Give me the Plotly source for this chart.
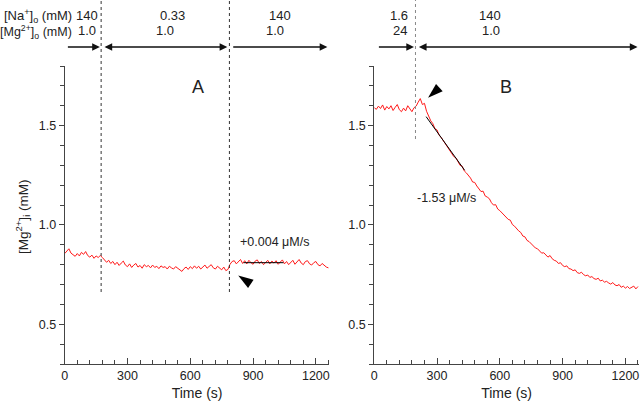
import plotly.graph_objects as go

# ---------------- data ----------------
time_s = list(range(0, 1261, 10))

mg_a = [0.856, 0.870, 0.880, 0.858, 0.850, 0.842, 0.856, 0.844, 0.862, 0.852,
        0.866, 0.846, 0.838, 0.848, 0.832, 0.844, 0.836, 0.846, 0.836, 0.826,
        0.812, 0.822, 0.806, 0.816, 0.800, 0.812, 0.796, 0.808, 0.818, 0.798,
        0.790, 0.804, 0.786, 0.798, 0.806, 0.788, 0.796, 0.782, 0.800, 0.790,
        0.796, 0.784, 0.798, 0.786, 0.792, 0.780, 0.794, 0.786, 0.790, 0.778,
        0.792, 0.784, 0.778, 0.790, 0.782, 0.772, 0.766, 0.780, 0.788, 0.776,
        0.790, 0.780, 0.794, 0.782, 0.792, 0.778, 0.790, 0.798, 0.782, 0.792,
        0.800, 0.784, 0.778, 0.792, 0.782, 0.774, 0.788, 0.770, 0.776, 0.802,
        0.816, 0.820, 0.804, 0.816, 0.826, 0.806, 0.820, 0.804, 0.822, 0.810,
        0.802, 0.818, 0.824, 0.806, 0.816, 0.800, 0.814, 0.822, 0.804, 0.818,
        0.808, 0.820, 0.802, 0.814, 0.824, 0.804, 0.816, 0.800, 0.812, 0.822,
        0.802, 0.814, 0.826, 0.808, 0.800, 0.816, 0.820, 0.804, 0.798, 0.810,
        0.816, 0.800, 0.794, 0.806, 0.796, 0.788, 0.784]

mg_b = [1.590, 1.582, 1.598, 1.586, 1.604, 1.578, 1.596, 1.584, 1.600, 1.576,
        1.592, 1.606, 1.580, 1.570, 1.588, 1.574, 1.600, 1.582, 1.570, 1.590,
        1.598, 1.618, 1.636, 1.606, 1.612, 1.572,
        1.548, 1.524, 1.510, 1.484, 1.478, 1.452, 1.440, 1.424, 1.408, 1.396,
        1.378, 1.366, 1.344, 1.338, 1.322, 1.300, 1.296, 1.272, 1.262, 1.250,
        1.236, 1.216, 1.214, 1.196, 1.182, 1.168, 1.170, 1.146, 1.140, 1.132,
        1.112, 1.100, 1.102, 1.080, 1.072, 1.062, 1.050, 1.040, 1.028, 1.024,
        1.002, 0.994, 0.980, 0.970, 0.962, 0.944, 0.940, 0.922, 0.916, 0.906,
        0.894, 0.884, 0.880, 0.866, 0.858, 0.860, 0.846, 0.838, 0.846, 0.830,
        0.822, 0.818, 0.806, 0.810, 0.796, 0.790, 0.794, 0.780, 0.778, 0.770,
        0.774, 0.760, 0.756, 0.762, 0.750, 0.744, 0.748, 0.736, 0.740, 0.730,
        0.726, 0.732, 0.718, 0.722, 0.712, 0.716, 0.708, 0.702, 0.710, 0.698,
        0.694, 0.700, 0.686, 0.692, 0.682, 0.690, 0.680, 0.686, 0.692, 0.678,
        0.690]

fit_a_t = [855, 1045]
fit_a_v = [0.810, 0.810]
fit_b_t = [248, 432]
fit_b_v = [1.545, 1.275]

switch_a = [174, 787]
switch_b = [197]

pointer_a = (829, 0.746)
pointer_b = (257, 1.640)

na_a = ["140", "0.33", "140"]
mg_o_a = ["1.0", "1.0", "1.0"]
na_b = ["1.6", "140"]
mg_o_b = ["24", "1.0"]

# ---------------- helpers ----------------
W, H = 640, 404
def X(px):
    return px / W
def Y(py):
    return (H - py) / H

FONT = "Liberation Sans, Arial, sans-serif"
AX = "#444444"
TXT = "#222222"

fig = go.Figure()
fig.add_trace(go.Scatter(x=time_s, y=mg_a, mode="lines", xaxis="x", yaxis="y",
                         line=dict(color="#ff1a1a", width=1)))
fig.add_trace(go.Scatter(x=time_s, y=mg_b, mode="lines", xaxis="x2", yaxis="y2",
                         line=dict(color="#ff1a1a", width=1)))
fig.add_trace(go.Scatter(x=fit_a_t, y=fit_a_v, mode="lines", xaxis="x", yaxis="y",
                         line=dict(color="black", width=1)))
fig.add_trace(go.Scatter(x=fit_b_t, y=fit_b_v, mode="lines", xaxis="x2", yaxis="y2",
                         line=dict(color="black", width=1)))
fig.add_trace(go.Scatter(x=[pointer_a[0]], y=[pointer_a[1]], mode="markers", xaxis="x", yaxis="y",
                         marker=dict(symbol="arrow", size=16, angle=304, color="black",
                                     line=dict(width=0)), cliponaxis=False))
fig.add_trace(go.Scatter(x=[pointer_b[0]], y=[pointer_b[1]], mode="markers", xaxis="x2", yaxis="y2",
                         marker=dict(symbol="arrow", size=16, angle=228, color="black",
                                     line=dict(width=0)), cliponaxis=False))

xcommon = dict(range=[0, 1265], tick0=0, dtick=300, ticks="inside", ticklen=6,
               tickcolor=AX, showline=True, linecolor=AX, linewidth=1,
               showgrid=False, zeroline=False,
               minor=dict(dtick=60, tick0=0, ticks="inside", ticklen=4, tickcolor=AX),
               tickfont=dict(family=FONT, size=12.5, color=TXT),
               title=dict(text="Time (s)", font=dict(family=FONT, size=14, color=TXT), standoff=6))
ycommon = dict(range=[0.3, 1.8], tick0=0, dtick=0.5, tickformat=".1f", ticks="outside",
               ticklen=5, tickcolor=AX, showline=True, linecolor=AX, linewidth=1,
               showgrid=False, zeroline=False,
               minor=dict(dtick=0.1, tick0=0, ticks="outside", ticklen=4, tickcolor=AX),
               tickfont=dict(family=FONT, size=12.5, color=TXT))

fig.update_layout(
    width=W, height=H, margin=dict(l=0, r=0, t=0, b=0),
    paper_bgcolor="white", plot_bgcolor="white", showlegend=False,
    xaxis=dict(domain=[X(62), X(328)], anchor="y", **xcommon),
    yaxis=dict(domain=[Y(364), Y(66)], anchor="x", **ycommon),
    xaxis2=dict(domain=[X(373), X(639)], anchor="y2", **xcommon),
    yaxis2=dict(domain=[Y(364), Y(66)], anchor="x2", **ycommon),
)

shapes = []
for t in switch_a:
    shapes.append(dict(type="line", xref="x", yref="paper", x0=t, x1=t, y0=Y(292), y1=1.0,
                       line=dict(color="#333333", width=1, dash="dot")))
for t in switch_b:
    shapes.append(dict(type="line", xref="x2", yref="paper", x0=t, x1=t, y0=Y(139), y1=1.0,
                       line=dict(color="#888888", width=1, dash="dot")))
fig.update_layout(shapes=shapes)

ann = []
def txt(text, px, py, size=12.5, xanchor="center", **kw):
    ann.append(dict(text=text, x=X(px), y=Y(py), xref="paper", yref="paper", showarrow=False,
                    xanchor=xanchor, yanchor="middle",
                    font=dict(family=FONT, size=size, color=TXT), **kw))

txt("[Na<sup>+</sup>]<sub>o</sub> (mM)", 71, 16, size=13, xanchor="right")
txt("[Mg<sup>2+</sup>]<sub>o</sub> (mM)", 71, 32, size=12.5, xanchor="right")
for s, px in zip(na_a, [84, 170, 278]):
    txt(s, px, 15, size=13)
for s, px in zip(mg_o_a, [84, 163, 273]):
    txt(s, px, 31, size=13)
for s, px in zip(na_b, [398, 489]):
    txt(s, px, 15, size=13)
for s, px in zip(mg_o_b, [399, 490]):
    txt(s, px, 31, size=13)

txt("A", 196, 87, size=18)
txt("B", 505, 87, size=18)
txt("+0.004 \u03bcM/s", 273, 242)
txt("-1.53 \u03bcM/s", 446, 198)
txt("[Mg<sup>2+</sup>]<sub>i</sub> (mM)", 20, 217, size=13.5, textangle=-90)

def arrow(xref, t0, t1, both=False):
    ann.append(dict(x=t1, y=Y(47), xref=xref, yref="paper", ax=t0, ay=0,
                    axref=xref, ayref="pixel", showarrow=True, text="",
                    arrowhead=2, startarrowhead=2, arrowsize=1.1, startarrowsize=1.1,
                    arrowwidth=1.4, arrowcolor="#111111",
                    arrowside="end+start" if both else "end", standoff=0, startstandoff=0))

arrow("x", 8, 168)
arrow("x", 183, 777, both=True)
arrow("x", 798, 1255)
arrow("x2", 15, 190)
arrow("x2", 206, 1258, both=True)

fig.update_layout(annotations=ann)
fig.write_html("out.html", config={"displayModeBar": False},
               post_script="document.body.style.margin='0';document.body.style.overflow='hidden';")
